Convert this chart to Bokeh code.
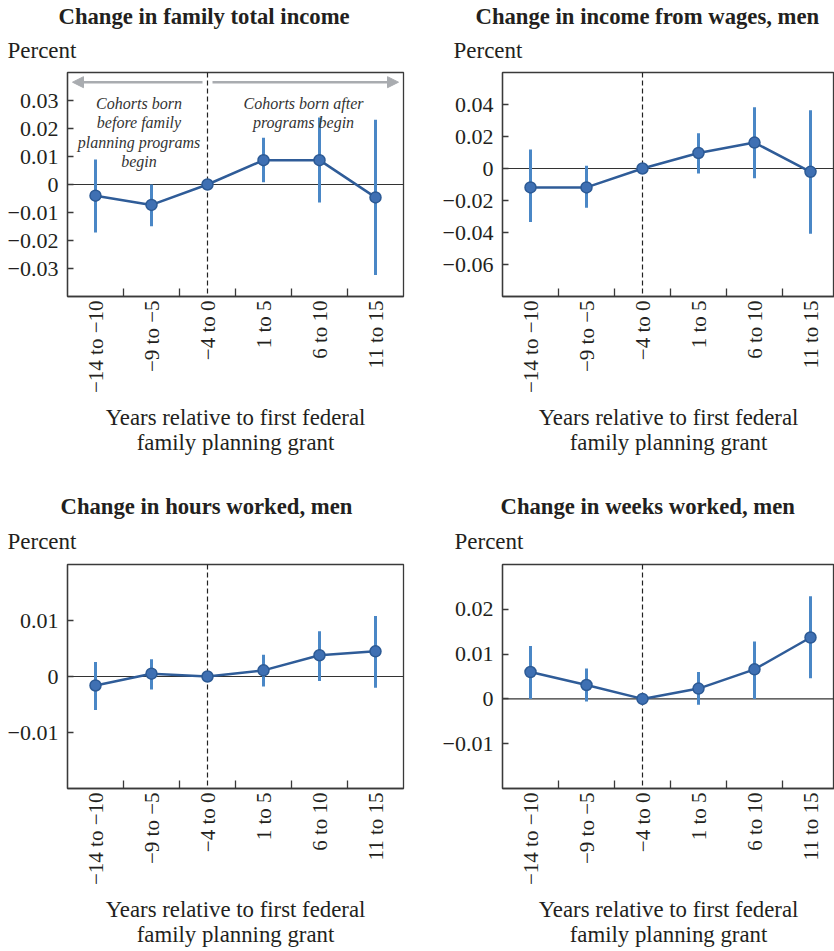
import math
from bokeh.plotting import figure
from bokeh.models import (FixedTicker, CustomJSTickFormatter, Span, Label, Arrow,
                          NormalHead, ColumnDataSource, Range1d, Title)
from bokeh.layouts import column, row
from bokeh.embed import file_html
from bokeh.resources import INLINE

# ---------------- data ----------------
categories = ["\u221214 to \u221210", "\u22129 to \u22125", "\u22124 to 0", "1 to 5", "6 to 10", "11 to 15"]
policy_category = "\u22124 to 0"

income_est = [-0.0040, -0.0073, 0.0, 0.0087, 0.0087, -0.0046]
income_lo = [-0.0171, -0.0149, 0.0, 0.0008, -0.0064, -0.0323]
income_hi = [0.0089, 0.0000, 0.0, 0.0167, 0.0239, 0.0231]

wages_est = [-0.0118, -0.0118, 0.0, 0.0097, 0.0162, -0.0021]
wages_lo = [-0.0335, -0.0246, 0.0, -0.0032, -0.0061, -0.0408]
wages_hi = [0.0118, 0.0017, 0.0, 0.0221, 0.0383, 0.0364]

hours_est = [-0.0016, 0.0005, 0.0, 0.0011, 0.0038, 0.0045]
hours_lo = [-0.0060, -0.0023, 0.0, -0.0018, -0.0008, -0.0020]
hours_hi = [0.0026, 0.0031, 0.0, 0.0039, 0.0081, 0.0108]

weeks_est = [0.0060, 0.0031, 0.0, 0.0023, 0.0066, 0.0137]
weeks_lo = [0.0000, -0.0006, 0.0, -0.0013, 0.0000, 0.0046]
weeks_hi = [0.0118, 0.0068, 0.0, 0.0060, 0.0128, 0.0229]

income_ticks = [-0.03, -0.02, -0.01, 0.0, 0.01, 0.02, 0.03]
wages_ticks = [-0.06, -0.04, -0.02, 0.0, 0.02, 0.04]
hours_ticks = [-0.01, 0.0, 0.01]
weeks_ticks = [-0.01, 0.0, 0.01, 0.02]

titles = ["Change in family total income", "Change in income from wages, men",
          "Change in hours worked, men", "Change in weeks worked, men"]
y_label = "Percent"
x_label = "Years relative to first federal\nfamily planning grant"
note_before = ["Cohorts born", "before family", "planning programs", "begin"]
note_after = ["Cohorts born after", "programs begin"]

# ---------------- style ----------------
FONT = "Liberation Serif"
TXT = "#231f20"
FRAME = "#3a3a3a"
LINE_C = "#2f5c98"
MARK_FILL = "#3f70b3"
MARK_LINE = "#2c5a95"
ERR_C = "#4a87c6"
ARROW_C = "#a9acb0"
PX_PER_CAT = 56.0
TITLE_BOX = 27.5  # approx height of one 23px title line incl. 2px padding

xs = list(range(1, len(categories) + 1))
bounds = [x + 0.5 for x in xs[:-1]]

yfmt_code = """
if (Math.abs(tick) < 1e-9) { return "0"; }
return (tick < 0 ? "\u2212" : "") + Math.abs(tick).toFixed(2);
"""


def make_panel(title, est, lo, hi, y_start, y_end, yticks,
               fig_w, fig_h, ox, oy, bl, br, bt, bb,
               title_left, pct_left):
    frame_l = ox + bl
    frame_t = oy + bt
    frame_w = fig_w - bl - br
    frame_h = fig_h - bt - bb
    x_end = 0.5 + frame_w / PX_PER_CAT

    def dx(px):
        return 0.5 + (px - frame_l) / PX_PER_CAT

    def dy(py):
        return y_end - (py - frame_t) * (y_end - y_start) / frame_h

    p = figure(width=fig_w, height=fig_h, x_range=Range1d(0.5, x_end),
               y_range=Range1d(y_start, y_end), output_backend="svg",
               toolbar_location=None, min_border_left=bl, min_border_right=br,
               min_border_top=bt, min_border_bottom=bb)
    p.background_fill_color = "white"
    p.border_fill_color = "white"
    p.outline_line_color = FRAME
    p.outline_line_width = 1.3
    p.xgrid.visible = False
    p.ygrid.visible = False

    # titles (added nearest-to-frame first)
    pct_standoff = max(0, bt - 2 * TITLE_BOX)
    p.add_layout(Title(text=y_label, align="left", offset=pct_left - frame_l,
                       vertical_align="middle", standoff=pct_standoff,
                       text_font=FONT, text_font_size="23px",
                       text_font_style="normal", text_color=TXT), "above")
    p.add_layout(Title(text=title, align="left", offset=title_left - frame_l,
                       vertical_align="bottom", standoff=0,
                       text_font=FONT, text_font_size="22.7px",
                       text_font_style="bold", text_color=TXT), "above")

    # x axis
    xa = p.xaxis[0]
    xa.ticker = FixedTicker(ticks=xs, minor_ticks=bounds)
    xa.major_label_overrides = {x: c for x, c in zip(xs, categories)}
    xa.major_label_orientation = math.pi / 2
    xa.major_tick_in = 0
    xa.major_tick_out = 0
    xa.minor_tick_in = 8
    xa.minor_tick_out = 0
    xa.minor_tick_line_color = FRAME
    xa.minor_tick_line_width = 1.3
    xa.axis_line_color = FRAME
    xa.axis_line_width = 1.3
    xa.major_label_standoff = 4
    xa.major_label_text_font = FONT
    xa.major_label_text_font_size = "21px"
    xa.major_label_text_color = TXT
    xa.axis_label = x_label
    xa.axis_label_standoff = 9
    xa.axis_label_text_font = FONT
    xa.axis_label_text_font_size = "22.8px"
    xa.axis_label_text_font_style = "normal"
    xa.axis_label_text_color = TXT
    xa.axis_label_text_line_height = 1.0

    # y axis
    ya = p.yaxis[0]
    ya.ticker = FixedTicker(ticks=yticks, minor_ticks=[])
    ya.formatter = CustomJSTickFormatter(code=yfmt_code)
    ya.major_tick_in = 6
    ya.major_tick_out = 0
    ya.major_tick_line_color = FRAME
    ya.major_tick_line_width = 1.3
    ya.minor_tick_line_color = None
    ya.axis_line_color = FRAME
    ya.axis_line_width = 1.3
    ya.major_label_standoff = 9
    ya.major_label_text_font = FONT
    ya.major_label_text_font_size = "22px"
    ya.major_label_text_color = TXT

    # reference lines
    p.add_layout(Span(location=0, dimension="width", line_color="#333333",
                      line_width=1.2, level="underlay"))
    p.add_layout(Span(location=categories.index(policy_category) + 1,
                      dimension="height", line_color="#222222", line_width=1.2,
                      line_dash="5 3", level="underlay"))

    src = ColumnDataSource(dict(x=xs, est=est, lo=lo, hi=hi))
    p.segment(x0="x", y0="lo", x1="x", y1="hi", source=src, line_color=ERR_C,
              line_width=3)
    p.line(x="x", y="est", source=src, line_color=LINE_C, line_width=2.5)
    p.scatter(x="x", y="est", source=src, marker="circle", size=11,
              fill_color=MARK_FILL, line_color=MARK_LINE, line_width=1.5)
    return p, dx, dy


# geometry (page pixels)
TOP_H = 490
BOT_H = 460
LEFT_W = 420
RIGHT_W = 414

p1, dx1, dy1 = make_panel(titles[0], income_est, income_lo, income_hi, -0.04, 0.04,
                          income_ticks, LEFT_W, TOP_H, 0, 0, 67, 17, 72, 194, 58, 7)
p2, dx2, dy2 = make_panel(titles[1], wages_est, wages_lo, wages_hi, -0.08, 0.06,
                          wages_ticks, RIGHT_W, TOP_H, 420, 0, 82, 0, 72, 194, 475, 453)
p3, dx3, dy3 = make_panel(titles[2], hours_est, hours_lo, hours_hi, -0.02, 0.02,
                          hours_ticks, LEFT_W, BOT_H, 0, 490, 67, 17, 74, 162, 60, 7)
p4, dx4, dy4 = make_panel(titles[3], weeks_est, weeks_lo, weeks_hi, -0.02, 0.03,
                          weeks_ticks, RIGHT_W, BOT_H, 420, 490, 82, 0, 74, 162, 500, 454)

# annotations in first panel
arrow_y = dy1(81.7)
for xs_px, xe_px in [(202, 72), (212, 398)]:
    p1.add_layout(Arrow(end=NormalHead(size=11, fill_color=ARROW_C, line_color=ARROW_C),
                        x_start=dx1(xs_px), y_start=arrow_y, x_end=dx1(xe_px),
                        y_end=arrow_y, line_color=ARROW_C, line_width=2.5))

for i, t in enumerate(note_before):
    p1.add_layout(Label(x=dx1(138.5), y=dy1(102.5 + 19.5 * i), text=t,
                        text_align="center", text_baseline="alphabetic",
                        text_font=FONT, text_font_style="italic",
                        text_font_size="16px", text_color="#333333"))
for i, t in enumerate(note_after):
    p1.add_layout(Label(x=dx1(303), y=dy1(102.5 + 19.5 * i), text=t,
                        text_align="center", text_baseline="alphabetic",
                        text_font=FONT, text_font_style="italic",
                        text_font_size="16px", text_color="#333333"))

layout = column(row(p1, p2), row(p3, p4))
open("out.html", "w").write(file_html(layout, INLINE))
